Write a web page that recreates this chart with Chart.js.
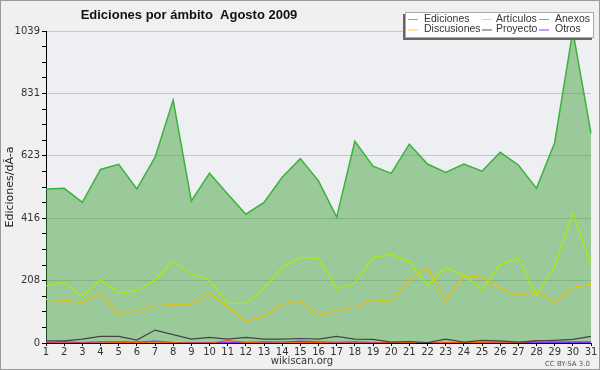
<!DOCTYPE html>
<html lang="es">
<head>
  <meta charset="UTF-8" />
  <title>Ediciones por ámbito Agosto 2009</title>
  <script src="https://cdn.jsdelivr.net/npm/chart.js"></script>
  <style>
    html, body { margin: 0; padding: 0; background: #f0f0f0; }
    #wrap { width: 600px; height: 370px; position: relative; }
  </style>
</head>
<body>
  <div id="wrap"><canvas id="chart" width="600" height="370"></canvas></div>

  <script>
    // days of August 2009
    const days = Array.from({ length: 31 }, (_, i) => String(i + 1));

    const ediciones = [513, 515, 468, 578, 595, 513, 618, 809, 473, 565, 496, 429, 468, 552, 614, 540,
                       419, 672, 589, 565, 662, 596, 568, 596, 572, 635, 593, 515, 667, 1039, 698];
    const articulos = [190, 202, 154, 212, 165, 175, 209, 273, 229, 209, 132, 132, 182, 252, 285, 282,
                       181, 199, 285, 295, 272, 192, 252, 225, 179, 262, 282, 159, 254, 432, 262];
    const discusiones = [145, 142, 135, 166, 95, 109, 124, 129, 129, 166, 121, 73, 89, 129, 142, 92,
                         109, 119, 145, 139, 212, 252, 139, 225, 219, 182, 159, 170, 135, 185, 195];
    const proyecto = [7, 7, 13, 22, 22, 10, 43, 28, 13, 19, 13, 19, 13, 13, 15, 13,
                      22, 13, 12, 3, 5, 1, 13, 3, 9, 7, 3, 7, 9, 12, 22];
    const anexos = [0, 0, 0, 0, 1, 1, 4, 1, 0, 0, 8, 2, 0, 0, 1, 1,
                    0, 0, 0, 1, 1, 0, 1, 1, 2, 4, 1, 8, 5, 5, 5];
    const otros = [1, 4, 1, 4, 4, 3, 6, 1, 1, 1, 1, 2, 4, 3, 6, 4,
                   2, 4, 1, 1, 1, 1, 1, 1, 1, 1, 1, 1, 1, 1, 1];

    const yMax = 1039;
    const yStep = yMax / 20;

    // legend entries, laid out in 3 columns x 2 rows like the original
    const legendItems = [
      { text: 'Ediciones', color: '#66cc66' },
      { text: 'Artículos', color: '#ccee44' },
      { text: 'Anexos', color: '#ff7733' },
      { text: 'Discusiones', color: '#ffcc33' },
      { text: 'Proyecto', color: '#555555' },
      { text: 'Otros', color: '#9933ee' }
    ];

    const decor = {
      id: 'decor',
      beforeDraw(chart) {
        const { ctx, chartArea: a } = chart;
        ctx.save();
        ctx.fillStyle = '#f0f0f0';
        ctx.fillRect(0, 0, chart.width, chart.height);
        ctx.fillStyle = '#eeeff2';
        ctx.fillRect(a.left, a.top, a.right - a.left, a.bottom - a.top);
        ctx.restore();
      },
      afterDraw(chart) {
        const { ctx } = chart;
        ctx.save();
        // outer frame
        ctx.strokeStyle = '#9a9a9a';
        ctx.lineWidth = 1;
        ctx.strokeRect(0.5, 0.5, chart.width - 1, chart.height - 1);

        // title
        ctx.fillStyle = '#111';
        ctx.font = 'bold 13px "Liberation Sans", Arial, sans-serif';
        ctx.textAlign = 'center';
        ctx.textBaseline = 'middle';
        ctx.fillText('Ediciones por ámbito  Agosto 2009', 189, 15);

        // legend box with shadow
        const bx = 405, by = 12, bw = 189, bh = 26;
        ctx.fillStyle = '#666';
        ctx.fillRect(bx - 2, by + 2, bw, bh);
        ctx.fillStyle = '#fff';
        ctx.fillRect(bx, by, bw, bh);
        ctx.strokeStyle = '#aaa';
        ctx.strokeRect(bx + 0.5, by + 0.5, bw - 1, bh - 1);
        ctx.font = '10.5px "Liberation Sans", Arial, sans-serif';
        ctx.textAlign = 'left';
        const colLine = [408, 482, 539];
        const colText = [424, 496, 555];
        legendItems.forEach((it, i) => {
          const c = i % 3, r = Math.floor(i / 3);
          const y = by + 7 + r * 10.5;
          ctx.strokeStyle = it.color;
          ctx.beginPath();
          ctx.moveTo(colLine[c], y + 0.5);
          ctx.lineTo(colLine[c] + 10, y + 0.5);
          ctx.stroke();
          ctx.fillStyle = '#333';
          ctx.fillText(it.text, colText[c], y);
        });

        // footer
        ctx.fillStyle = '#333';
        ctx.font = '10px "DejaVu Sans", sans-serif';
        ctx.textAlign = 'center';
        ctx.fillText('wikiscan.org', 302, 361);
        ctx.fillStyle = '#555';
        ctx.font = '7px "DejaVu Sans", sans-serif';
        ctx.textAlign = 'right';
        ctx.fillText('CC BY-SA 3.0', 590, 364);
        ctx.restore();
      }
    };

    const line = (label, data, color, extra) => Object.assign({
      label, data,
      borderColor: color,
      borderWidth: 1.2,
      pointRadius: 0,
      tension: 0,
      fill: false
    }, extra || {});

    new Chart(document.getElementById('chart'), {
      type: 'line',
      data: {
        labels: days,
        datasets: [
          line('Ediciones', ediciones, '#3cb23c', {
            fill: 'origin', backgroundColor: 'rgba(55,160,50,0.46)', borderWidth: 1.5, order: 10
          }),
          line('Artículos', articulos, '#aaee00'),
          line('Discusiones', discusiones, '#f0bf00'),
          line('Proyecto', proyecto, '#444444'),
          line('Anexos', anexos, '#ff5500'),
          line('Otros', otros, '#8833ff')
        ]
      },
      options: {
        responsive: false,
        animation: false,
        layout: { padding: { top: 31, right: 9, left: 0, bottom: 0 } },
        plugins: {
          legend: { display: false },
          title: { display: false },
          tooltip: { enabled: false }
        },
        scales: {
          x: {
            offset: false,
            afterFit: s => { s.height = 27; },
            grid: { display: true, drawOnChartArea: false, tickLength: 3, tickColor: '#000' },
            border: { color: '#000', width: 1 },
            ticks: {
              color: '#333', font: { size: 10, family: '"DejaVu Sans", sans-serif' },
              padding: 0, maxRotation: 0, autoSkip: false
            }
          },
          y: {
            min: 0,
            max: yMax,
            afterFit: s => { s.width = 46; },
            afterBuildTicks: s => {
              s.ticks = Array.from({ length: 21 }, (_, i) => ({ value: i * yStep }));
            },
            grid: {
              color: c => (c.index % 4 === 0 && c.index > 0) ? '#c8c8c8' : 'rgba(0,0,0,0)',
              tickColor: '#000',
              tickLength: 4
            },
            border: { color: '#000', width: 1 },
            title: {
              display: true,
              text: 'Ediciones/dÃ-a',
              color: '#222',
              font: { size: 11, family: '"DejaVu Sans", sans-serif' },
              padding: { top: 4, bottom: 0 }
            },
            ticks: {
              color: '#333',
              font: { size: 10, family: '"DejaVu Sans", sans-serif' },
              padding: 2,
              autoSkip: false,
              callback: (v, i) => (i % 4 === 0 ? String(Math.round(v)) : '')
            }
          }
        }
      },
      plugins: [decor]
    });
  </script>
</body>
</html>
